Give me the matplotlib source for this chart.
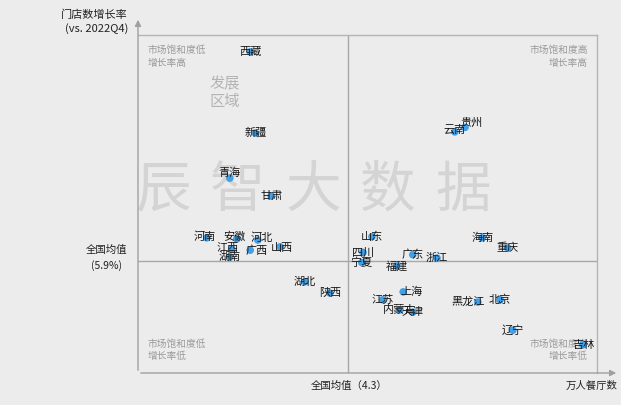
import matplotlib
matplotlib.use("Agg")
import matplotlib.pyplot as plt

plt.rcParams['font.family'] = ['Noto Sans CJK SC', 'DejaVu Sans']

# provinces: 万人餐厅数 (x) vs 门店数增长率 % (y)
provinces = ['西藏', '新疆', '贵州', '云南', '青海', '甘肃', '河南', '安徽', '河北',
             '江西', '广西', '山西', '湖南', '湖北', '陕西', '山东', '四川', '宁夏',
             '福建', '广东', '浙江', '海南', '重庆', '江苏', '上海', '内蒙古', '天津',
             '黑龙江', '北京', '辽宁', '吉林']
restaurants = [2.76, 2.84, 6.13, 5.97, 2.44, 3.09, 2.08, 2.55, 2.88,
               2.47, 2.76, 3.23, 2.44, 3.62, 4.01, 4.67, 4.53, 4.51,
               5.06, 5.31, 5.69, 6.40, 6.80, 4.84, 5.16, 5.11, 5.31,
               6.33, 6.68, 6.88, 7.98]
growth = [24.5, 17.3, 17.8, 17.4, 13.3, 11.7, 8.0, 7.9, 7.8,
          7.0, 6.9, 7.2, 6.3, 4.1, 3.1, 8.1, 6.7, 5.8,
          5.5, 6.5, 6.2, 8.0, 7.1, 2.5, 3.2, 1.6, 1.4,
          2.3, 2.5, -0.2, -1.5]
avg_x = 4.3
avg_y = 5.9
watermark = ['辰', '智', '大', '数', '据']

# label nudges in points
nudge = {'贵州': (5, 3), '青海': (0, 3.5), '河南': (-1.5, 0.7), '安徽': (-1.5, 1.4),
         '河北': (2.5, 1.4), '江西': (-3, 0.7), '广西': (5, -0.7), '山西': (1.5, -0.7),
         '上海': (6, 0), '黑龙江': (-7, 0), '云南': (0, 1.4)}

fig = plt.figure(figsize=(6.21, 4.05), dpi=100)
fig.patch.set_facecolor('#ececec')
ax = fig.add_axes([138 / 621, 32 / 405, 459 / 621, 338 / 405])
ax.set_facecolor('#ececec')
ax.set_xlim(1.0, 8.2)
ax.set_ylim(-4, 26)
ax.set_xticks([])
ax.set_yticks([])
for side in ['top', 'right']:
    ax.spines[side].set_color('#b4b4b4')
    ax.spines[side].set_linewidth(1)
for side in ['left', 'bottom']:
    ax.spines[side].set_visible(False)

ax.axvline(avg_x, color='#a8a8a8', lw=1)
ax.axhline(avg_y, color='#a8a8a8', lw=1)

# axes arrows
ax.annotate('', xy=(138 / 621, 388 / 405), xytext=(138 / 621, 32 / 405),
            xycoords='figure fraction',
            arrowprops=dict(arrowstyle='-|>', color='#a0a0a0', lw=1, mutation_scale=9))
ax.annotate('', xy=(619 / 621, 32 / 405), xytext=(138 / 621, 32 / 405),
            xycoords='figure fraction',
            arrowprops=dict(arrowstyle='-|>', color='#a0a0a0', lw=1, mutation_scale=9))

# watermark (inside the axes so it sits under the labels)
for i, ch in enumerate(watermark):
    ax.text((163 + 75 * i) / 621, 1 - 191 / 405, ch, transform=fig.transFigure,
            fontsize=40, color='#d4d4d4', ha='center', va='center', zorder=0)
ax.text(0.19, 0.828, '发展\n区域', transform=ax.transAxes, fontsize=11,
        color='#b4b4b4', ha='center', va='center', linespacing=1.05, zorder=0)

# quadrant notes
qcol = '#9a9a9a'
ax.text(0.02, 0.97, '市场饱和度低\n增长率高', transform=ax.transAxes, fontsize=7,
        color=qcol, ha='left', va='top', linespacing=1.3)
ax.text(0.98, 0.97, '市场饱和度高\n增长率高', transform=ax.transAxes, fontsize=7,
        color=qcol, ha='right', va='top', linespacing=1.3, multialignment='right')
ax.text(0.02, 0.035, '市场饱和度低\n增长率低', transform=ax.transAxes, fontsize=7,
        color=qcol, ha='left', va='bottom', linespacing=1.3)
ax.text(0.98, 0.035, '市场饱和度高\n增长率低', transform=ax.transAxes, fontsize=7,
        color=qcol, ha='right', va='bottom', linespacing=1.3, multialignment='right')

ax.scatter(restaurants, growth, s=30, color='#42a0e6', edgecolors='none', zorder=3)
for name, x, y in zip(provinces, restaurants, growth):
    dx, dy = nudge.get(name, (0, 0))
    ax.annotate(name, (x, y), xytext=(dx, dy), textcoords='offset points',
                ha='center', va='center', fontsize=8, color='#161616', zorder=4)

# axis titles
fig.text(128 / 621, 1 - 22 / 405, '门店数增长率\n(vs. 2022Q4)', ha='right', va='center',
         fontsize=8, color='#222222', linespacing=1.35, multialignment='right')
fig.text(107 / 621, 1 - 258 / 405, '全国均值\n(5.9%)', ha='center', va='center',
         fontsize=7.5, color='#222222', linespacing=1.6)
fig.text(349 / 621, 1 - 386 / 405, '全国均值（4.3）', ha='center', va='center',
         fontsize=7.5, color='#222222')
fig.text(592 / 621, 1 - 386 / 405, '万人餐厅数', ha='center', va='center',
         fontsize=7.5, color='#222222')

fig.savefig('out.png', dpi=100, facecolor=fig.get_facecolor())
